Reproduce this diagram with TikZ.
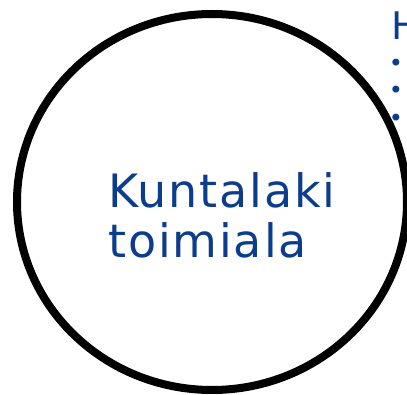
\documentclass[tikz,border=0pt]{standalone}
\usepackage{fontspec}
\setmainfont{DejaVu Sans}
\definecolor{kblue}{RGB}{12,60,140}
\usetikzlibrary{positioning,shapes.geometric}

\begin{document}
\begin{tikzpicture}[x=1pt,y=1pt]
  \useasboundingbox (0,0) rectangle (407,394);
  % Main circle
  \node[draw,ellipse,line width=8pt,minimum width=390pt,minimum height=376pt,inner sep=0pt]
        (circ) at (212,192) {};
  % Circle label
  \node[anchor=base west,align=left,text=kblue,inner sep=0pt,
        font=\addfontfeatures{LetterSpace=4}\fontsize{46}{50}\selectfont]
        (lbl) at (108,136) {Kuntalaki\\toimiala};
  % Cut-off list at the right edge
  \node[anchor=base west,text=kblue,inner sep=0pt,font=\fontsize{38}{40}\selectfont]
        (head) at (391,354) {H};
  \foreach \y/\n in {329/b1,302/b2,274/b3}
    \node[text=kblue,inner sep=0pt,font=\fontsize{24}{24}\selectfont]
          (\n) at (396,\y) {•};
\end{tikzpicture}
\end{document}
